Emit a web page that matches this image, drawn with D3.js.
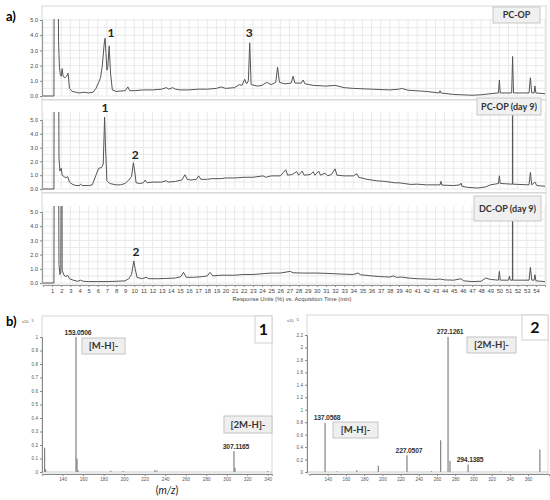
<!DOCTYPE html>
<html>
<head>
<meta charset="utf-8">
<script src="https://cdn.jsdelivr.net/npm/d3@7"></script>
<style>
body { margin: 0; background: #fff; }
svg { display: block; }
</style>
</head>
<body>
<svg id="chart" width="550" height="500"></svg>
<script>
// ---- data ----
// chromatograms: [time (min), response units]; 20 = off-scale
const pcOp = [[0,0],[1.2,0],[1.25,20],[1.6,20],[1.7,3.6],[1.8,1.9],[1.9,1.4],[2.0,1.3],[2.1,1.8],[2.2,1.3],[2.4,1.2],[2.6,1.3],[2.75,1.5],[2.9,0.5],[3.2,0.3],[3.6,0.25],[4.0,0.2],[4.5,0.25],[5.0,0.2],[5.5,0.25],[5.8,0.5],[6.1,0.9],[6.3,1.2],[6.5,2.0],[6.7,3.4],[6.8,3.8],[6.9,2.8],[7.0,1.7],[7.1,1.9],[7.25,3.3],[7.4,1.5],[7.6,0.4],[8.0,0.3],[9.0,0.35],[9.3,0.6],[9.5,0.35],[10,0.35],[11,0.4],[12,0.4],[13,0.45],[13.5,0.55],[13.8,0.45],[14.2,0.55],[14.5,0.45],[15,0.4],[16,0.4],[17,0.45],[18,0.45],[19,0.5],[19.5,0.6],[20,0.5],[21,0.55],[21.5,0.75],[21.8,0.7],[22.1,1.1],[22.3,0.8],[22.5,1.0],[22.65,3.5],[22.8,0.75],[23.5,0.65],[24,0.7],[24.5,0.9],[25,0.75],[25.5,0.9],[25.7,1.9],[25.9,0.9],[26.5,0.8],[27.2,0.85],[27.4,1.3],[27.6,0.85],[28.3,0.85],[28.5,1.05],[28.7,0.8],[29.6,0.7],[31,0.65],[32,0.7],[33,0.55],[34,0.5],[36,0.45],[38,0.4],[39,0.45],[39.3,0.5],[40,0.38],[42,0.3],[43.4,0.2],[43.5,0.35],[43.6,0.2],[45,0.1],[47,0.05],[48,0.08],[49,0.15],[49.9,0.2],[50,1.05],[50.1,0.2],[51.35,0.2],[51.45,2.6],[51.55,0.2],[53.25,0.2],[53.4,1.2],[53.55,0.2],[53.8,0.2],[53.9,0.66],[54,0.2],[55,0.15]];

const pcOpDay9 = [[0,0],[1.2,0],[1.25,20],[1.65,20],[1.75,2.25],[1.85,1.3],[2.0,1.5],[2.1,1.0],[2.3,0.9],[2.5,0.8],[2.7,0.9],[2.9,0.5],[3.2,0.35],[3.6,0.25],[4.0,0.25],[4.1,0.35],[4.3,0.25],[5.0,0.25],[5.4,0.3],[5.8,1.0],[6.1,1.5],[6.4,1.55],[6.6,1.8],[6.75,5.2],[6.85,3.0],[7.0,0.6],[7.3,0.4],[8,0.3],[8.5,0.3],[9.0,0.4],[9.4,0.65],[9.7,0.9],[9.9,1.9],[10.05,1.3],[10.2,0.45],[10.6,0.4],[11.0,0.45],[11.2,0.65],[11.4,0.45],[12,0.5],[13,0.5],[13.5,0.6],[13.7,0.5],[14.5,0.55],[15.2,0.65],[15.55,1.03],[15.8,0.7],[16.2,0.65],[16.8,0.7],[17.05,0.95],[17.3,0.7],[18,0.7],[18.5,0.75],[19.5,0.75],[20,0.8],[21,0.8],[22,0.85],[23,0.85],[24.1,0.95],[24.4,0.85],[25,0.95],[26,0.95],[26.6,1.39],[26.8,1.0],[27.3,1.05],[27.8,1.27],[28.0,1.0],[28.4,1.3],[28.6,1.0],[29.3,1.05],[29.6,1.25],[29.8,1.0],[30.2,1.3],[30.4,1.0],[30.9,1.15],[31.2,0.95],[31.6,1.05],[32.0,1.46],[32.2,1.0],[33,0.95],[34,0.95],[34.4,1.1],[34.6,0.85],[35.5,0.7],[36.5,0.6],[37.5,0.55],[38.5,0.45],[39,0.45],[40.3,0.33],[41,0.35],[42,0.3],[43.5,0.3],[43.6,0.55],[43.7,0.28],[45,0.25],[45.7,0.3],[45.8,0.43],[45.9,0.2],[46.5,0.12],[47.6,0.07],[48.5,0.15],[49,0.3],[49.5,0.35],[49.9,0.4],[50,0.96],[50.1,0.4],[51.43,0.35],[51.45,20],[51.47,0.35],[53.25,0.3],[53.4,1.2],[53.55,0.3],[53.9,0.5],[54.1,0.25],[55,0.2]];

const dcOpDay9 = [[0,0],[1.2,0],[1.25,20],[1.65,20],[1.75,1.3],[1.85,0.6],[1.95,0.7],[2.05,20],[2.1,0.9],[2.3,0.55],[2.5,0.45],[2.7,0.55],[2.9,0.3],[3.3,0.2],[3.8,0.12],[4.1,0.2],[4.4,0.12],[5,0.1],[6,0.1],[7,0.1],[8,0.12],[9,0.15],[9.4,0.3],[9.7,0.6],[9.95,1.55],[10.1,1.0],[10.3,0.4],[10.8,0.3],[11.3,0.4],[11.6,0.3],[12.5,0.3],[13.5,0.32],[14.5,0.35],[15.1,0.45],[15.4,0.75],[15.7,0.4],[16.5,0.4],[17.5,0.45],[18.0,0.5],[18.3,0.75],[18.6,0.5],[19.5,0.55],[21,0.55],[22,0.6],[23,0.6],[24,0.65],[25,0.7],[26,0.7],[27.1,0.82],[27.4,0.72],[28.5,0.7],[30,0.7],[31,0.68],[32,0.65],[33,0.62],[34,0.6],[34.5,0.7],[34.8,0.58],[36,0.5],[37,0.45],[38,0.42],[38.4,0.5],[38.7,0.4],[39.3,0.42],[40,0.35],[41,0.3],[42,0.28],[43,0.25],[43.5,0.28],[44,0.22],[45,0.2],[45.8,0.3],[46.1,0.15],[47,0.1],[48,0.12],[48.5,0.35],[49,0.25],[49.9,0.2],[50,0.82],[50.1,0.2],[51,0.2],[51.1,0.47],[51.2,0.2],[51.43,0.2],[51.45,20],[51.47,0.2],[53.25,0.2],[53.4,1.1],[53.55,0.2],[53.8,0.2],[53.9,0.58],[54.0,0.15],[55,0.1]];

const timeTicks = d3.range(1, 55);
const unitTicks = [0, 1, 2, 3, 4, 5];
const panelNames = ["PC-OP", "PC-OP (day 9)", "DC-OP (day 9)"];
// peak numbers: [text, time, response] where the number sits
const peakLabels1 = [["1", 7.45, 4.15], ["3", 22.6, 4.15]];
const peakLabels2 = [["1", 6.8, 5.87], ["2", 10.1, 2.46]];
const peakLabels3 = [["2", 10.2, 2.18]];

// mass spectra: [m/z, counts x10^5]
const ms1Peaks = [[122.5,0.18],[123.5,0.02],[153.0506,1.0],[154.05,0.1],[155.1,0.012],[187,0.01],[199,0.008],[230,0.015],[232,0.01],[307.1165,0.155],[308.1,0.03],[340,0.008]];
const ms1Ticks = [140,160,180,200,220,240,260,280,300,320,340];
const ms1YTicks = [0,0.1,0.2,0.3,0.4,0.5,0.6,0.7,0.8,0.9,1];
const ms1Labels = [["153.0506", 153.0506, 1.0], ["307.1165", 307.1165, 0.155]];

const ms2Peaks = [[137.0568,0.79],[150,0.01],[172,0.03],[195.5,0.1],[227.0507,0.27],[254,0.012],[264.1,0.51],[272.1261,2.17],[274.3,0.18],[294.1385,0.12],[330,0.008],[373,0.36]];
const ms2Ticks = [140,160,180,200,220,240,260,280,300,320,340,360];
const ms2YTicks = [0,0.2,0.4,0.6,0.8,1,1.2,1.4,1.6,1.8,2,2.2];
const ms2Labels = [["137.0568", 137.0568, 0.79], ["227.0507", 227.0507, 0.27], ["272.1261", 272.1261, 2.17], ["294.1385", 294.1385, 0.12]];

// ---- drawing ----
const svg = d3.select("#chart");
const tickFont = "Liberation Sans, Arial, sans-serif";
const boxFont = "Lato, Open Sans, sans-serif";

svg.append("text").text("a)").attr("x", 6).attr("y", 21)
	.attr("font-family", boxFont).attr("font-weight", "bold").attr("font-size", 13);
svg.append("text").text("b)").attr("x", 6).attr("y", 326)
	.attr("font-family", boxFont).attr("font-weight", "bold").attr("font-size", 13);

// time scale shared by the three chromatograms
const x = d3.scaleLinear().domain([0, 55]).range([43, 545]);

function drawChrom(data, top, plotTop, bottom, yRange, name, nameBox, labels, idx, lastPanel) {
	const y = d3.scaleLinear().domain([0, 5]).range(yRange);
	const g = svg.append("g");

	// frame
	g.append("rect").attr("x", 42).attr("y", top).attr("width", 504).attr("height", bottom - top)
		.attr("fill", "#fff").attr("stroke", "#d8d8d8");

	// grid
	g.selectAll(".vg").data(d3.range(0, 56)).join("line")
		.attr("x1", d => x(d)).attr("x2", d => x(d))
		.attr("y1", plotTop).attr("y2", y(0))
		.attr("stroke", "#e4e4e4").attr("stroke-width", 0.8);
	g.selectAll(".hg").data(d3.range(0, 5.5, 0.5)).join("line")
		.attr("x1", 42).attr("x2", 546)
		.attr("y1", d => y(d)).attr("y2", d => y(d))
		.attr("stroke", "#e4e4e4").attr("stroke-width", 0.8);

	// y axis
	const yAxis = d3.axisLeft(y).tickValues(unitTicks).tickSize(2).tickPadding(2);
	const ya = g.append("g").attr("transform", "translate(42,0)").call(yAxis);
	ya.select(".domain").attr("stroke", "#999");
	ya.selectAll(".tick line").attr("stroke", "#888");
	ya.selectAll("text").attr("font-family", tickFont).attr("font-size", 5.5).attr("fill", "#444");

	// trace, clipped to the plot area
	const clipId = "clip" + idx;
	svg.append("clipPath").attr("id", clipId).append("rect")
		.attr("x", 42).attr("y", plotTop).attr("width", 504).attr("height", bottom - plotTop);
	g.append("path").datum(data)
		.attr("clip-path", "url(#" + clipId + ")")
		.attr("fill", "none").attr("stroke", "#555").attr("stroke-width", 1)
		.attr("d", d3.line().x(d => x(d[0])).y(d => y(d[1])));

	// peak numbers
	g.selectAll(".pk").data(labels).join("text")
		.text(d => d[0]).attr("x", d => x(d[1])).attr("y", d => y(d[2]))
		.attr("dy", "0.35em").attr("text-anchor", "middle")
		.attr("font-family", boxFont).attr("font-weight", "bold").attr("font-size", 12).attr("fill", "#222");

	// name box
	g.append("rect").attr("x", nameBox[0]).attr("y", nameBox[1])
		.attr("width", nameBox[2]).attr("height", nameBox[3])
		.attr("fill", "#f0f0f0").attr("stroke", "#c8c8c8");
	g.append("text").text(name)
		.attr("x", nameBox[0] + nameBox[2] / 2).attr("y", nameBox[1] + nameBox[3] / 2)
		.attr("dy", "0.35em").attr("text-anchor", "middle")
		.attr("font-family", boxFont).attr("font-weight", "bold").attr("font-size", 9).attr("fill", "#333");

	if (lastPanel) {
		const xAxis = d3.axisBottom(x).tickValues(timeTicks).tickSize(2).tickPadding(2);
		const xa = g.append("g").attr("transform", "translate(0," + bottom + ")").call(xAxis);
		xa.select(".domain").attr("stroke", "#999");
		xa.selectAll(".tick line").attr("stroke", "#888");
		xa.selectAll("text").attr("font-family", tickFont).attr("font-size", 5.8).attr("fill", "#444");
		g.selectAll(".mt").data(d3.range(0.5, 55, 0.5)).join("line")
			.attr("x1", d => x(d)).attr("x2", d => x(d))
			.attr("y1", bottom).attr("y2", bottom + 1.2)
			.attr("stroke", "#999").attr("stroke-width", 0.6);
		g.append("text").text("Response Units (%) vs. Acquisition Time (min)")
			.attr("x", 292).attr("y", 301).attr("text-anchor", "middle")
			.attr("font-family", tickFont).attr("font-size", 5.8).attr("fill", "#444");
	}
}

drawChrom(pcOp, 6, 19, 99.5, [96, 20], panelNames[0], [493, 7, 47, 16], peakLabels1, 1, false);
drawChrom(pcOpDay9, 100, 112, 192.5, [189, 120], panelNames[1], [477, 98, 64, 17], peakLabels2, 2, false);
drawChrom(dcOpDay9, 193, 206, 285, [283, 212], panelNames[2], [474, 196, 67, 25], peakLabels3, 3, true);

// ---- mass spectra ----
function drawSpec(peaks, xs, ys, frame, xTicks, yTicks, yFmt, labels, numBox, num, ionBoxes, expPos) {
	const g = svg.append("g");
	g.append("rect").attr("x", frame[0]).attr("y", frame[1])
		.attr("width", frame[2]).attr("height", frame[3])
		.attr("fill", "#fff").attr("stroke", "#d8d8d8");

	// sticks
	g.selectAll(".stick").data(peaks).join("line")
		.attr("x1", d => xs(d[0])).attr("x2", d => xs(d[0]))
		.attr("y1", ys(0)).attr("y2", d => ys(d[1]))
		.attr("stroke", "#6a6a6a").attr("stroke-width", 1);
	g.append("line").attr("x1", frame[0]).attr("x2", frame[0] + frame[2])
		.attr("y1", ys(0)).attr("y2", ys(0)).attr("stroke", "#aaa").attr("stroke-width", 0.6);

	const bottom = frame[1] + frame[3];
	const xAxis = d3.axisBottom(xs).tickValues(xTicks).tickSize(2).tickPadding(2);
	const xa = g.append("g").attr("transform", "translate(0," + bottom + ")").call(xAxis);
	xa.select(".domain").attr("stroke", "#888");
	xa.selectAll(".tick line").attr("stroke", "#888");
	xa.selectAll("text").attr("font-family", tickFont).attr("font-size", 4.6).attr("fill", "#555");

	const yAxis = d3.axisLeft(ys).tickValues(yTicks).tickFormat(yFmt).tickSize(2).tickPadding(2);
	const ya = g.append("g").attr("transform", "translate(" + frame[0] + ",0)").call(yAxis);
	ya.select(".domain").attr("stroke", "#888");
	ya.selectAll(".tick line").attr("stroke", "#888");
	ya.selectAll("text").attr("font-family", tickFont).attr("font-size", 4.6).attr("fill", "#555");

	// x10^5
	g.append("text").attr("x", expPos[0]).attr("y", expPos[1])
		.attr("font-family", tickFont).attr("font-size", 4).attr("fill", "#555")
		.text("x10").append("tspan").attr("dx", 3).attr("dy", -1.5).text("5");

	// m/z labels
	g.selectAll(".mz").data(labels).join("text")
		.text(d => d[0]).attr("x", d => xs(d[1]) + 2).attr("y", d => ys(d[2]) - 2.5)
		.attr("text-anchor", "middle")
		.attr("font-family", tickFont).attr("font-weight", "bold").attr("font-size", 6.8)
		.attr("letter-spacing", -0.2).attr("fill", "#333");

	// ion boxes
	ionBoxes.forEach(b => {
		g.append("rect").attr("x", b[1]).attr("y", b[2]).attr("width", b[3]).attr("height", b[4])
			.attr("fill", "#efefef").attr("stroke", "#c4c4c4");
		g.append("text").text(b[0]).attr("x", b[1] + b[3] / 2).attr("y", b[2] + b[4] / 2)
			.attr("dy", "0.35em").attr("text-anchor", "middle")
			.attr("font-family", boxFont).attr("font-weight", "bold").attr("font-size", 9.5).attr("fill", "#333");
	});

	// panel number
	g.append("rect").attr("x", numBox[0]).attr("y", numBox[1]).attr("width", numBox[2]).attr("height", numBox[3])
		.attr("fill", "#fff").attr("stroke", "#d0d0d0");
	g.append("text").text(num).attr("x", numBox[0] + numBox[2] / 2).attr("y", numBox[1] + numBox[3] / 2)
		.attr("dy", "0.35em").attr("text-anchor", "middle")
		.attr("font-family", boxFont).attr("font-weight", "bold").attr("font-size", 16).attr("fill", "#111");
}

const xMs1 = d3.scaleLinear().domain([120, 344]).range([42.1, 271.8]);
const yMs1 = d3.scaleLinear().domain([0, 1]).range([472, 337]);
drawSpec(ms1Peaks, xMs1, yMs1, [42, 316, 230, 158], ms1Ticks, ms1YTicks, d3.format("~g"), ms1Labels,
	[255, 316, 17, 27], "1", [["[M-H]-", 82, 338, 43, 16], ["[2M-H]-", 224, 416, 48, 17]], [22, 323]);

const xMs2 = d3.scaleLinear().domain([120, 383]).range([309.5, 549]);
const yMs2 = d3.scaleLinear().domain([0, 2.2]).range([472, 335]);
drawSpec(ms2Peaks, xMs2, yMs2, [307, 315, 241, 159], ms2Ticks, ms2YTicks, d3.format("~g"), ms2Labels,
	[522, 315, 26, 25], "2", [["[M-H]-", 333, 422, 45, 16], ["[2M-H]-", 467, 337, 49, 16]], [287, 322]);

svg.append("text").attr("x", 167).attr("y", 494).attr("text-anchor", "middle")
	.attr("font-family", boxFont).attr("font-size", 10.5).attr("fill", "#222")
	.text("(").append("tspan").attr("font-style", "italic").text("m/z")
	.select(function() { return this.parentNode; }).append("tspan").text(")");
</script>
</body>
</html>
